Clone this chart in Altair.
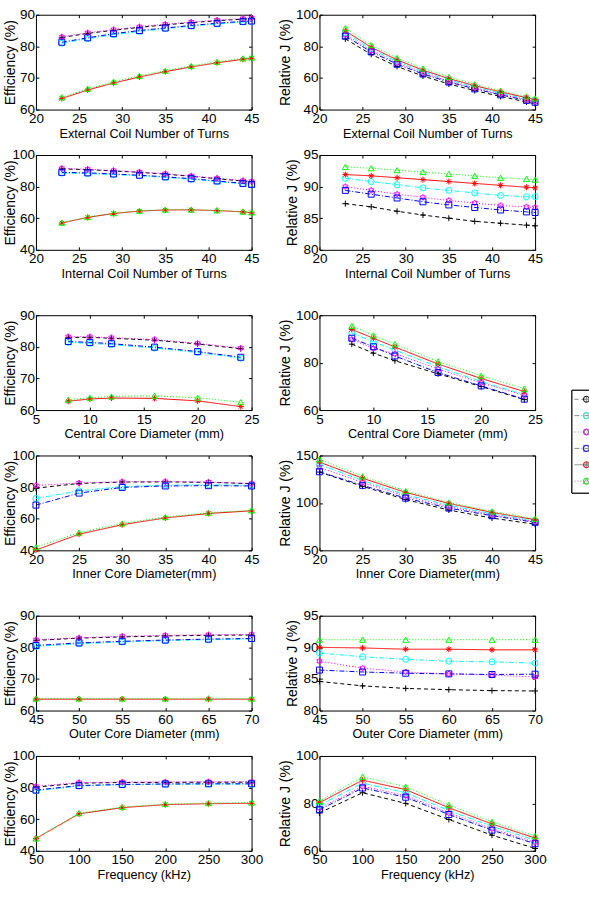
import altair as alt
import pandas as pd

# ---------------- series definitions ----------------
SERIES = ["Case 1", "Case 2", "Case 3", "Case 4", "Case 5", "Case 6"]
MARKER_KEYS = ["Mark 1", "Mark 2", "Mark 3", "Mark 4", "Mark 5", "Mark 6"]
COLORS = ["#000000", "#00ffff", "#ff00ff", "#0000ff", "#ff0000", "#00ff00"]
DASHES = [[4, 3], [5, 2, 1, 2], [1, 2], [5, 2, 1, 2], [1, 0], [1, 2]]
PLUS = "M-1,0H1M0,-1V1"
HEXAGRAM = ("M0,-1L0.289,-0.5L0.866,-0.5L0.577,0L0.866,0.5L0.289,0.5L0,1"
            "L-0.289,0.5L-0.866,0.5L-0.577,0L-0.866,-0.5L-0.289,-0.5Z")
ASTERISK = "M-1,0H1M0,-1V1M-0.7,-0.7L0.7,0.7M-0.7,0.7L0.7,-0.7"
SHAPES = [PLUS, "circle", HEXAGRAM, "square", ASTERISK, "triangle-up"]

# ---------------- data (order: black, cyan, magenta, blue, red, green) ----------------
EXT_TURNS = [23, 26, 29, 32, 35, 38, 41, 44, 45]
EXT_EFF = [
    [82.8, 84.1, 85.1, 86.0, 86.8, 87.5, 88.1, 88.6, 88.8],
    [81.0, 82.4, 83.7, 84.7, 85.6, 86.4, 87.1, 87.7, 87.8],
    [83.0, 84.3, 85.3, 86.2, 87.0, 87.7, 88.3, 88.8, 89.0],
    [81.3, 82.7, 84.0, 85.0, 85.8, 86.6, 87.3, 87.9, 88.0],
    [63.5, 66.2, 68.4, 70.3, 72.0, 73.5, 74.8, 75.9, 76.2],
    [63.9, 66.6, 68.8, 70.7, 72.3, 73.8, 75.1, 76.2, 76.5],
]
EXT_J = [
    [84.7, 74.9, 67.3, 61.2, 56.2, 52.0, 48.3, 44.8, 43.7],
    [88.5, 78.2, 70.3, 63.9, 58.7, 54.3, 50.4, 46.8, 45.6],
    [87.3, 77.2, 69.4, 63.1, 57.9, 53.6, 49.7, 46.2, 45.0],
    [86.5, 76.5, 68.7, 62.5, 57.4, 53.1, 49.3, 45.8, 44.6],
    [89.8, 79.4, 71.4, 64.9, 59.6, 55.1, 51.2, 47.5, 46.3],
    [91.5, 80.8, 72.6, 66.0, 60.6, 56.0, 52.0, 48.3, 47.0],
]

INT_TURNS = [23, 26, 29, 32, 35, 38, 41, 44, 45]
INT_EFF = [
    [91.2, 90.7, 89.9, 89.0, 87.9, 86.5, 85.0, 83.5, 83.0],
    [88.5, 88.2, 87.6, 86.8, 85.8, 84.6, 83.2, 81.8, 81.2],
    [91.5, 91.0, 90.2, 89.3, 88.2, 86.8, 85.3, 83.8, 83.3],
    [89.0, 88.7, 88.0, 87.2, 86.2, 85.0, 83.6, 82.0, 81.4],
    [57.0, 60.5, 63.0, 64.5, 65.2, 65.3, 64.8, 64.0, 63.5],
    [57.2, 60.7, 63.2, 64.7, 65.4, 65.4, 65.0, 64.2, 63.7],
]
INT_J = [
    [87.3, 86.8, 86.1, 85.5, 85.0, 84.5, 84.2, 83.9, 83.8],
    [91.3, 90.8, 90.3, 89.8, 89.4, 89.0, 88.6, 88.4, 88.4],
    [90.0, 89.4, 88.8, 88.3, 87.8, 87.4, 87.0, 86.8, 86.7],
    [89.4, 88.8, 88.2, 87.6, 87.1, 86.7, 86.3, 86.0, 85.9],
    [91.9, 91.7, 91.4, 91.1, 90.8, 90.5, 90.2, 89.9, 89.8],
    [93.1, 92.9, 92.6, 92.3, 92.0, 91.7, 91.4, 91.2, 91.1],
]

CEN_DIAM = [8, 10, 12, 16, 20, 24]
CEN_EFF = [
    [83.0, 83.0, 82.7, 82.1, 80.9, 79.4],
    [81.4, 81.1, 80.7, 79.6, 78.2, 76.4],
    [83.2, 83.2, 82.9, 82.3, 81.1, 79.6],
    [81.7, 81.4, 81.0, 79.9, 78.5, 76.7],
    [62.8, 63.5, 63.8, 63.7, 62.9, 61.1],
    [63.3, 63.9, 64.3, 64.5, 63.9, 62.5],
]
CEN_J = [
    [87.8, 84.0, 80.8, 75.3, 69.9, 64.4],
    [92.5, 88.8, 85.3, 78.2, 72.0, 66.5],
    [89.8, 86.0, 83.8, 77.3, 71.5, 66.2],
    [90.3, 86.7, 82.8, 75.8, 70.2, 64.6],
    [94.0, 90.3, 86.6, 79.4, 73.3, 67.8],
    [95.5, 91.5, 87.8, 80.5, 74.5, 69.0],
]

INNER_DIAM = [20, 25, 30, 35, 40, 45]
INNER_EFF = [
    [79.3, 82.3, 83.2, 83.3, 83.0, 82.2],
    [72.8, 77.6, 80.3, 81.2, 81.4, 81.1],
    [81.0, 82.6, 83.4, 83.5, 83.2, 82.3],
    [68.6, 76.2, 79.8, 80.7, 80.9, 80.7],
    [40.2, 50.2, 56.2, 60.5, 63.3, 65.0],
    [42.0, 51.2, 57.0, 61.0, 63.8, 65.3],
]
INNER_J = [
    [132.5, 117.5, 103.5, 92.5, 84.0, 77.5],
    [140.5, 123.5, 108.5, 97.5, 88.5, 81.0],
    [137.5, 121.5, 107.0, 96.0, 87.5, 80.0],
    [132.8, 118.5, 105.0, 94.5, 86.5, 79.5],
    [143.0, 126.0, 111.0, 99.5, 90.0, 82.3],
    [146.0, 128.0, 112.5, 100.5, 91.0, 83.2],
]

OUTER_DIAM = [45, 50, 55, 60, 65, 70]
OUTER_EFF = [
    [82.2, 82.9, 83.3, 83.6, 83.8, 83.9],
    [80.3, 81.1, 81.7, 82.1, 82.4, 82.6],
    [82.4, 83.0, 83.5, 83.8, 84.0, 84.1],
    [80.6, 81.4, 81.9, 82.3, 82.6, 82.8],
    [63.6, 63.6, 63.6, 63.6, 63.6, 63.6],
    [63.8, 63.8, 63.8, 63.8, 63.9, 63.8],
]
OUTER_J = [
    [84.6, 83.9, 83.5, 83.3, 83.15, 83.1],
    [89.1, 88.5, 88.1, 87.8, 87.7, 87.5],
    [87.8, 86.7, 86.1, 85.8, 85.6, 85.3],
    [86.4, 86.1, 85.9, 85.8, 85.7, 85.75],
    [90.0, 89.9, 89.7, 89.7, 89.6, 89.6],
    [91.2, 91.2, 91.2, 91.2, 91.2, 91.2],
]

FREQ = [50, 100, 150, 200, 250, 300]
FREQ_EFF = [
    [80.3, 82.8, 83.2, 83.3, 83.4, 83.4],
    [78.0, 81.0, 81.8, 82.1, 82.2, 82.2],
    [80.8, 83.2, 83.5, 83.6, 83.7, 83.7],
    [78.4, 81.3, 82.0, 82.3, 82.4, 82.4],
    [47.8, 63.4, 67.3, 69.2, 69.8, 70.0],
    [47.8, 63.8, 67.7, 69.6, 70.2, 70.6],
]
FREQ_J = [
    [76.0, 84.5, 80.0, 73.2, 66.6, 61.0],
    [79.3, 88.5, 84.5, 77.0, 70.3, 64.5],
    [78.0, 87.2, 83.3, 76.0, 69.3, 63.6],
    [77.3, 86.5, 82.6, 75.3, 68.7, 63.0],
    [80.3, 89.8, 85.8, 78.2, 71.3, 65.4],
    [81.0, 91.2, 87.0, 79.3, 72.3, 66.2],
]

# ---------------- styling ----------------
FONT = "Liberation Sans"
W, H = 216, 95
ROW_PAD = 5.4
# legend: box + line samples (clipped by the page edge, as in the reference)
LEG_LINES = alt.Legend(
    orient="none", legendX=536.4, legendY=375.7, title=None,
    symbolType="M-2.17,0H5.83M5.83,-1V1", symbolSize=36, symbolStrokeWidth=1,
    strokeColor="black", fillColor="white", padding=6, rowPadding=ROW_PAD,
    labelExpr="''", labelFontSize=4, labelOffset=2, symbolOffset=0,
)
LEG_MARKS = alt.Legend(
    orient="none", legendX=547.9, legendY=381.7, title=None,
    symbolSize=36, symbolStrokeWidth=1, padding=0, rowPadding=ROW_PAD,
    labelExpr="''", labelFontSize=4, labelOffset=2, zindex=1,
)


def panel(xs, ys_list, xdom, xticks, ydom, yticks, xtitle, ytitle, title_x):
    rows = []
    for s, m, ys in zip(SERIES, MARKER_KEYS, ys_list):
        for x, y in zip(xs, ys):
            rows.append({"x": x, "y": y, "series": s, "marker": m})
    df = pd.DataFrame(rows)
    base = alt.Chart(df)
    xsc = alt.Scale(domain=xdom, nice=False, zero=False)
    ysc = alt.Scale(domain=ydom, nice=False, zero=False)
    lines = base.mark_line(strokeWidth=1).encode(
        x=alt.X("x:Q", scale=xsc, axis=alt.Axis(
            orient="bottom", values=xticks, title=xtitle, offset=-3,
            labelPadding=2, titlePadding=2, titleFontSize=12.7)),
        y=alt.Y("y:Q", scale=ysc, axis=alt.Axis(
            orient="left", values=yticks, title=ytitle, offset=-3,
            labelPadding=1.5, titleFontSize=14, titleX=title_x)),
        color=alt.Color("series:N", sort=SERIES,
                        scale=alt.Scale(range=COLORS), legend=LEG_LINES),
        strokeDash=alt.StrokeDash("series:N", sort=SERIES,
                                  scale=alt.Scale(range=DASHES), legend=LEG_LINES),
    )
    points = base.mark_point(filled=False, size=36, strokeWidth=1, opacity=1).encode(
        x=alt.X("x:Q", scale=xsc, axis=alt.Axis(
            orient="top", values=xticks, title=None, labels=False, offset=-3)),
        y=alt.Y("y:Q", scale=ysc, axis=alt.Axis(
            orient="right", values=yticks, title=None, labels=False, offset=-3)),
        stroke=alt.Stroke("marker:N", sort=MARKER_KEYS,
                          scale=alt.Scale(range=COLORS), legend=LEG_MARKS),
        shape=alt.Shape("marker:N", sort=MARKER_KEYS,
                        scale=alt.Scale(range=SHAPES), legend=LEG_MARKS),
    )
    return (alt.layer(lines, points)
            .resolve_axis(x="independent", y="independent")
            .properties(width=W, height=H))


EFF = "Efficiency (%)"
RJ = "Relative J (%)"
LT = -21

p1 = panel(EXT_TURNS, EXT_EFF, [20, 45], [20, 25, 30, 35, 40, 45], [60, 90], [60, 70, 80, 90],
           "External Coil Number of Turns", EFF, LT)
p2 = panel(EXT_TURNS, EXT_J, [20, 45], [20, 25, 30, 35, 40, 45], [40, 100], [40, 60, 80, 100],
           "External Coil Number of Turns", RJ, -30)
p3 = panel(INT_TURNS, INT_EFF, [20, 45], [20, 25, 30, 35, 40, 45], [40, 100], [40, 60, 80, 100],
           "Internal Coil Number of Turns", EFF, LT)
p4 = panel(INT_TURNS, INT_J, [20, 45], [20, 25, 30, 35, 40, 45], [80, 95], [80, 85, 90, 95],
           "Internal Coil Number of Turns", RJ, -23)
p5 = panel(CEN_DIAM, CEN_EFF, [5, 25], [5, 10, 15, 20, 25], [60, 90], [60, 70, 80, 90],
           "Central Core Diameter (mm)", EFF, LT)
p6 = panel(CEN_DIAM, CEN_J, [5, 25], [5, 10, 15, 20, 25], [60, 100], [60, 80, 100],
           "Central Core Diameter (mm)", RJ, -30)
p7 = panel(INNER_DIAM, INNER_EFF, [20, 45], [20, 25, 30, 35, 40, 45], [40, 100], [40, 60, 80, 100],
           "Inner Core Diameter(mm)", EFF, LT)
p8 = panel(INNER_DIAM, INNER_J, [20, 45], [20, 25, 30, 35, 40, 45], [50, 150], [50, 100, 150],
           "Inner Core Diameter(mm)", RJ, -30)
p9 = panel(OUTER_DIAM, OUTER_EFF, [45, 70], [45, 50, 55, 60, 65, 70], [60, 90], [60, 70, 80, 90],
           "Outer Core Diameter (mm)", EFF, LT)
p10 = panel(OUTER_DIAM, OUTER_J, [45, 70], [45, 50, 55, 60, 65, 70], [80, 95], [80, 85, 90, 95],
            "Outer Core Diameter (mm)", RJ, -23)
p11 = panel(FREQ, FREQ_EFF, [50, 300], [50, 100, 150, 200, 250, 300], [40, 100], [40, 60, 80, 100],
            "Frequency (kHz)", EFF, LT)
p12 = panel(FREQ, FREQ_J, [50, 300], [50, 100, 150, 200, 250, 300], [60, 100], [60, 80, 100],
            "Frequency (kHz)", RJ, -30)


def row(a, b):
    return alt.hconcat(a, b, spacing=68, bounds="flush")


S_IN = 6.5
S_OUT = 26
g1 = alt.vconcat(row(p1, p2), row(p3, p4), spacing=S_IN)
g2 = alt.vconcat(row(p5, p6), row(p7, p8), spacing=S_IN)
g3 = alt.vconcat(row(p9, p10), row(p11, p12), spacing=S_IN)

chart = alt.vconcat(g1, g2, g3, spacing=S_OUT).properties(
    padding={"left": 3, "top": 6, "right": -18, "bottom": 0}
).configure_view(
    stroke="black", strokeWidth=1
).configure_axis(
    domain=False, grid=False, tickColor="black", tickSize=3, tickWidth=1,
    labelFont=FONT, labelFontSize=13.5, labelColor="black", labelFlush=False,
    labelOverlap=False, titleFont=FONT, titleFontWeight="normal", titleColor="black",
).configure_legend(
    labelFont=FONT
)

chart.save("out.html", embed_options={"renderer": "svg", "actions": False})
